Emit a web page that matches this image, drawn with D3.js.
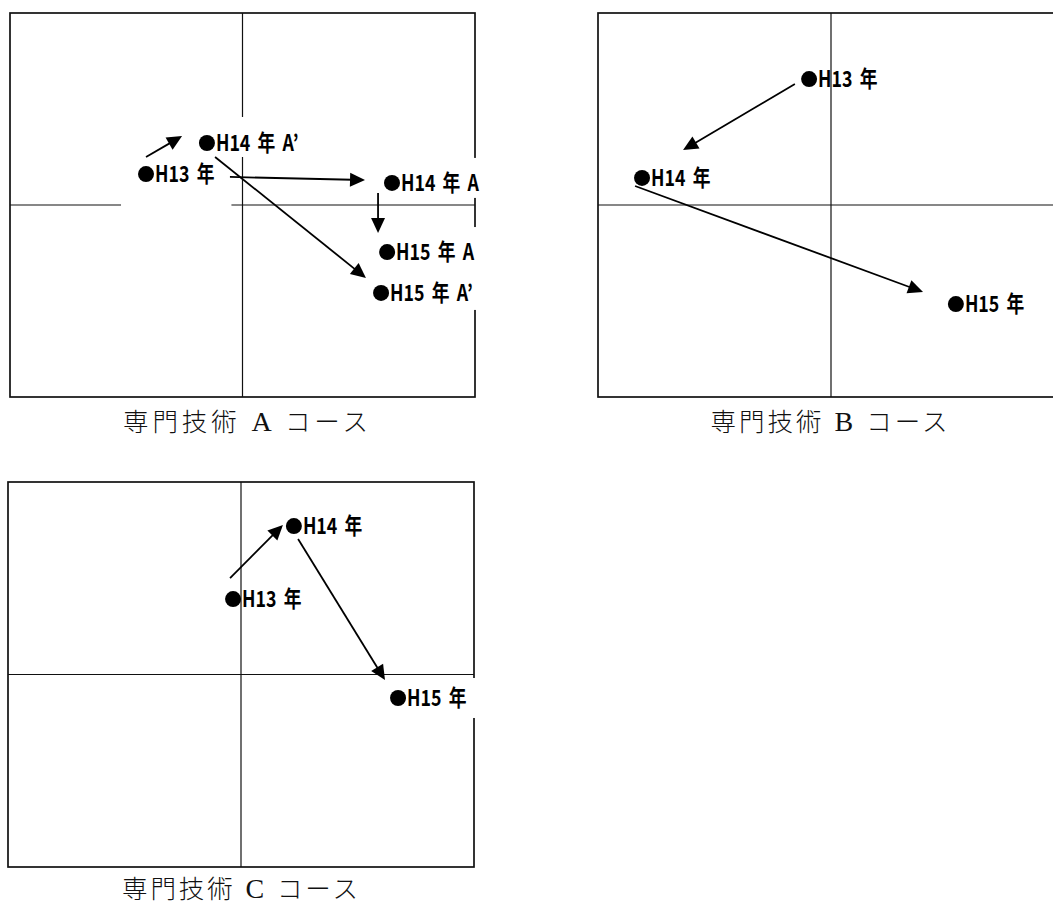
<!DOCTYPE html>
<html><head><meta charset="utf-8">
<script src="https://cdn.jsdelivr.net/npm/d3@7"></script>
<style>body{margin:0;background:#fff}svg{display:block}</style>
</head><body>
<svg id="chart" width="1053" height="904"></svg>
<script>
// ---------- data (normalised positioning-map units, axes cross at 0, range -10..10) ----------
const courseTitles = ["専門技術 A コース", "専門技術 B コース", "専門技術 C コース"];

const labelsA = ["H13 年", "H14 年 A’", "H14 年 A", "H15 年 A", "H15 年 A’"];
const xA = [-4.15, -1.53, 6.43, 6.22, 5.96];
const yA = [1.61, 3.23, 1.15, -2.45, -4.58];
const arrowFromXA = [-4.15, -0.54, -1.18, 5.83];
const arrowFromYA = [2.50, 1.46, 2.50, 0.63];
const arrowToXA = [-2.60, 5.27, 5.31, 5.83];
const arrowToYA = [3.59, 1.30, -3.80, -1.46];

const labelsB = ["H13 年", "H14 年", "H15 年"];
const xB = [-0.94, -8.11, 5.36];
const yB = [6.56, 1.41, -5.16];
const arrowFromXB = [-1.55, -8.41];
const arrowFromYB = [6.30, 0.99];
const arrowToXB = [-6.35, 3.95];
const arrowToYB = [2.86, -4.53];

const labelsC = ["H13 年", "H14 年", "H15 年"];
const xC = [-0.34, 2.27, 6.74];
const yC = [3.92, 7.71, -1.22];
const arrowFromXC = [-0.47, 2.45];
const arrowFromYC = [5.01, 7.04];
const arrowToXC = [1.80, 6.18];
const arrowToYC = [7.77, -0.29];

// ---------- layout (pixels) ----------
const layout = [
  {left: 10, right: 475, top: 13, bottom: 397, titleY: 431, titleW: 245, titleDx: 3,
   boxes: [[17, 9, 17, 25], [10, 18, 10, 6], [10, 17, 8, 7], [10, 17, 10, 12], [10, 13, 10, 9]]},
  {left: 598, right: 1064, top: 13, bottom: 397, titleY: 431, titleW: 237, titleDx: -2, boxes: null},
  {left: 8, right: 474, top: 482, bottom: 867, titleY: 898, titleW: 236, titleDx: -1,
   boxes: [null, null, [10, 12, 10, 12]]}
];

const panelsData = [
  {labels: labelsA, xs: xA, ys: yA, ax1: arrowFromXA, ay1: arrowFromYA, ax2: arrowToXA, ay2: arrowToYA},
  {labels: labelsB, xs: xB, ys: yB, ax1: arrowFromXB, ay1: arrowFromYB, ax2: arrowToXB, ay2: arrowToYB},
  {labels: labelsC, xs: xC, ys: yC, ax1: arrowFromXC, ay1: arrowFromYC, ax2: arrowToXC, ay2: arrowToYC}
];

const svg = d3.select("#chart");
const DOT_R = 8;
const HEAD_L = 15, HEAD_W = 7;
const labelFont = "'Noto Sans CJK JP', 'Noto Sans', sans-serif";

panelsData.forEach((pd, i) => {
  const L = layout[i];
  const x = d3.scaleLinear().domain([-10, 10]).range([L.left, L.right]);
  const y = d3.scaleLinear().domain([-10, 10]).range([L.bottom, L.top]);
  const g = svg.append("g");

  // frame
  g.append("rect").attr("x", L.left).attr("y", L.top)
    .attr("width", L.right - L.left).attr("height", L.bottom - L.top)
    .attr("fill", "none").attr("stroke", "#111").attr("stroke-width", 1.7);
  // cross axes
  g.append("line").attr("x1", x(0)).attr("x2", x(0)).attr("y1", L.top).attr("y2", L.bottom)
    .attr("stroke", "#111").attr("stroke-width", 1.2);
  g.append("line").attr("x1", L.left).attr("x2", L.right).attr("y1", y(0)).attr("y2", y(0))
    .attr("stroke", "#111").attr("stroke-width", 1.2);

  const pts = pd.labels.map((lab, j) => ({lab, cx: x(pd.xs[j]), cy: y(pd.ys[j]), box: L.boxes ? L.boxes[j] : null}));

  const boxLayer = g.append("g");
  const arrowLayer = g.append("g");
  const labelLayer = g.append("g");

  // labels (dot + text)
  pts.forEach(p => {
    const lg = labelLayer.append("g");
    lg.append("circle").attr("cx", p.cx).attr("cy", p.cy).attr("r", DOT_R).attr("fill", "#000");
    const t = lg.append("text").attr("x", p.cx + DOT_R + 1).attr("y", p.cy + 8)
      .attr("font-family", labelFont).attr("font-weight", "bold").attr("font-size", 22.5)
      .attr("word-spacing", 4)
      .attr("fill", "#000").text(p.lab);
    const nat = t.node().getComputedTextLength();
    const w = nat * 0.79;
    t.attr("textLength", w).attr("lengthAdjust", "spacingAndGlyphs");
    p.x1 = p.cx + DOT_R + 1 + w;
  });

  // white label boxes that hide the grid lines beneath
  pts.forEach(p => {
    if (!p.box) return;
    const [pl, pt, pr, pb] = p.box;
    const x0 = p.cx - DOT_R - pl, y0 = p.cy - DOT_R - pt;
    const x1 = p.x1 + pr, y1 = p.cy + DOT_R + pb;
    boxLayer.append("rect").attr("x", x0).attr("y", y0).attr("width", x1 - x0).attr("height", y1 - y0)
      .attr("fill", "#fff");
  });

  // arrows
  pd.ax1.forEach((_, k) => {
    const sx = x(pd.ax1[k]), sy = y(pd.ay1[k]), ex = x(pd.ax2[k]), ey = y(pd.ay2[k]);
    const dx = ex - sx, dy = ey - sy, len = Math.hypot(dx, dy);
    const ux = dx / len, uy = dy / len;
    const bx = ex - ux * HEAD_L, by = ey - uy * HEAD_L;
    arrowLayer.append("line").attr("x1", sx).attr("y1", sy).attr("x2", bx + ux * 2).attr("y2", by + uy * 2)
      .attr("stroke", "#000").attr("stroke-width", 1.8);
    const px = -uy, py = ux;
    arrowLayer.append("polygon")
      .attr("points", [[ex, ey], [bx + px * HEAD_W, by + py * HEAD_W], [bx - px * HEAD_W, by - py * HEAD_W]]
        .map(q => q.join(",")).join(" "))
      .attr("fill", "#000");
  });

  // title
  const parts = courseTitles[i].split(" ");
  const tt = svg.append("text").attr("x", (L.left + Math.min(L.right, 1064)) / 2 + L.titleDx).attr("y", L.titleY)
    .attr("text-anchor", "middle").attr("font-size", 25.5).attr("fill", "#111")
    .attr("font-family", "'Noto Sans CJK JP', sans-serif").attr("font-weight", 300);
  tt.append("tspan").text(parts[0]);
  tt.append("tspan").attr("font-family", "'Liberation Serif', 'DejaVu Serif', serif").attr("font-weight", "normal")
    .attr("font-size", 28).text(" " + parts[1] + " ");
  tt.append("tspan").text(parts[2]);
  tt.attr("textLength", L.titleW).attr("lengthAdjust", "spacing");
});
</script>
</body></html>
